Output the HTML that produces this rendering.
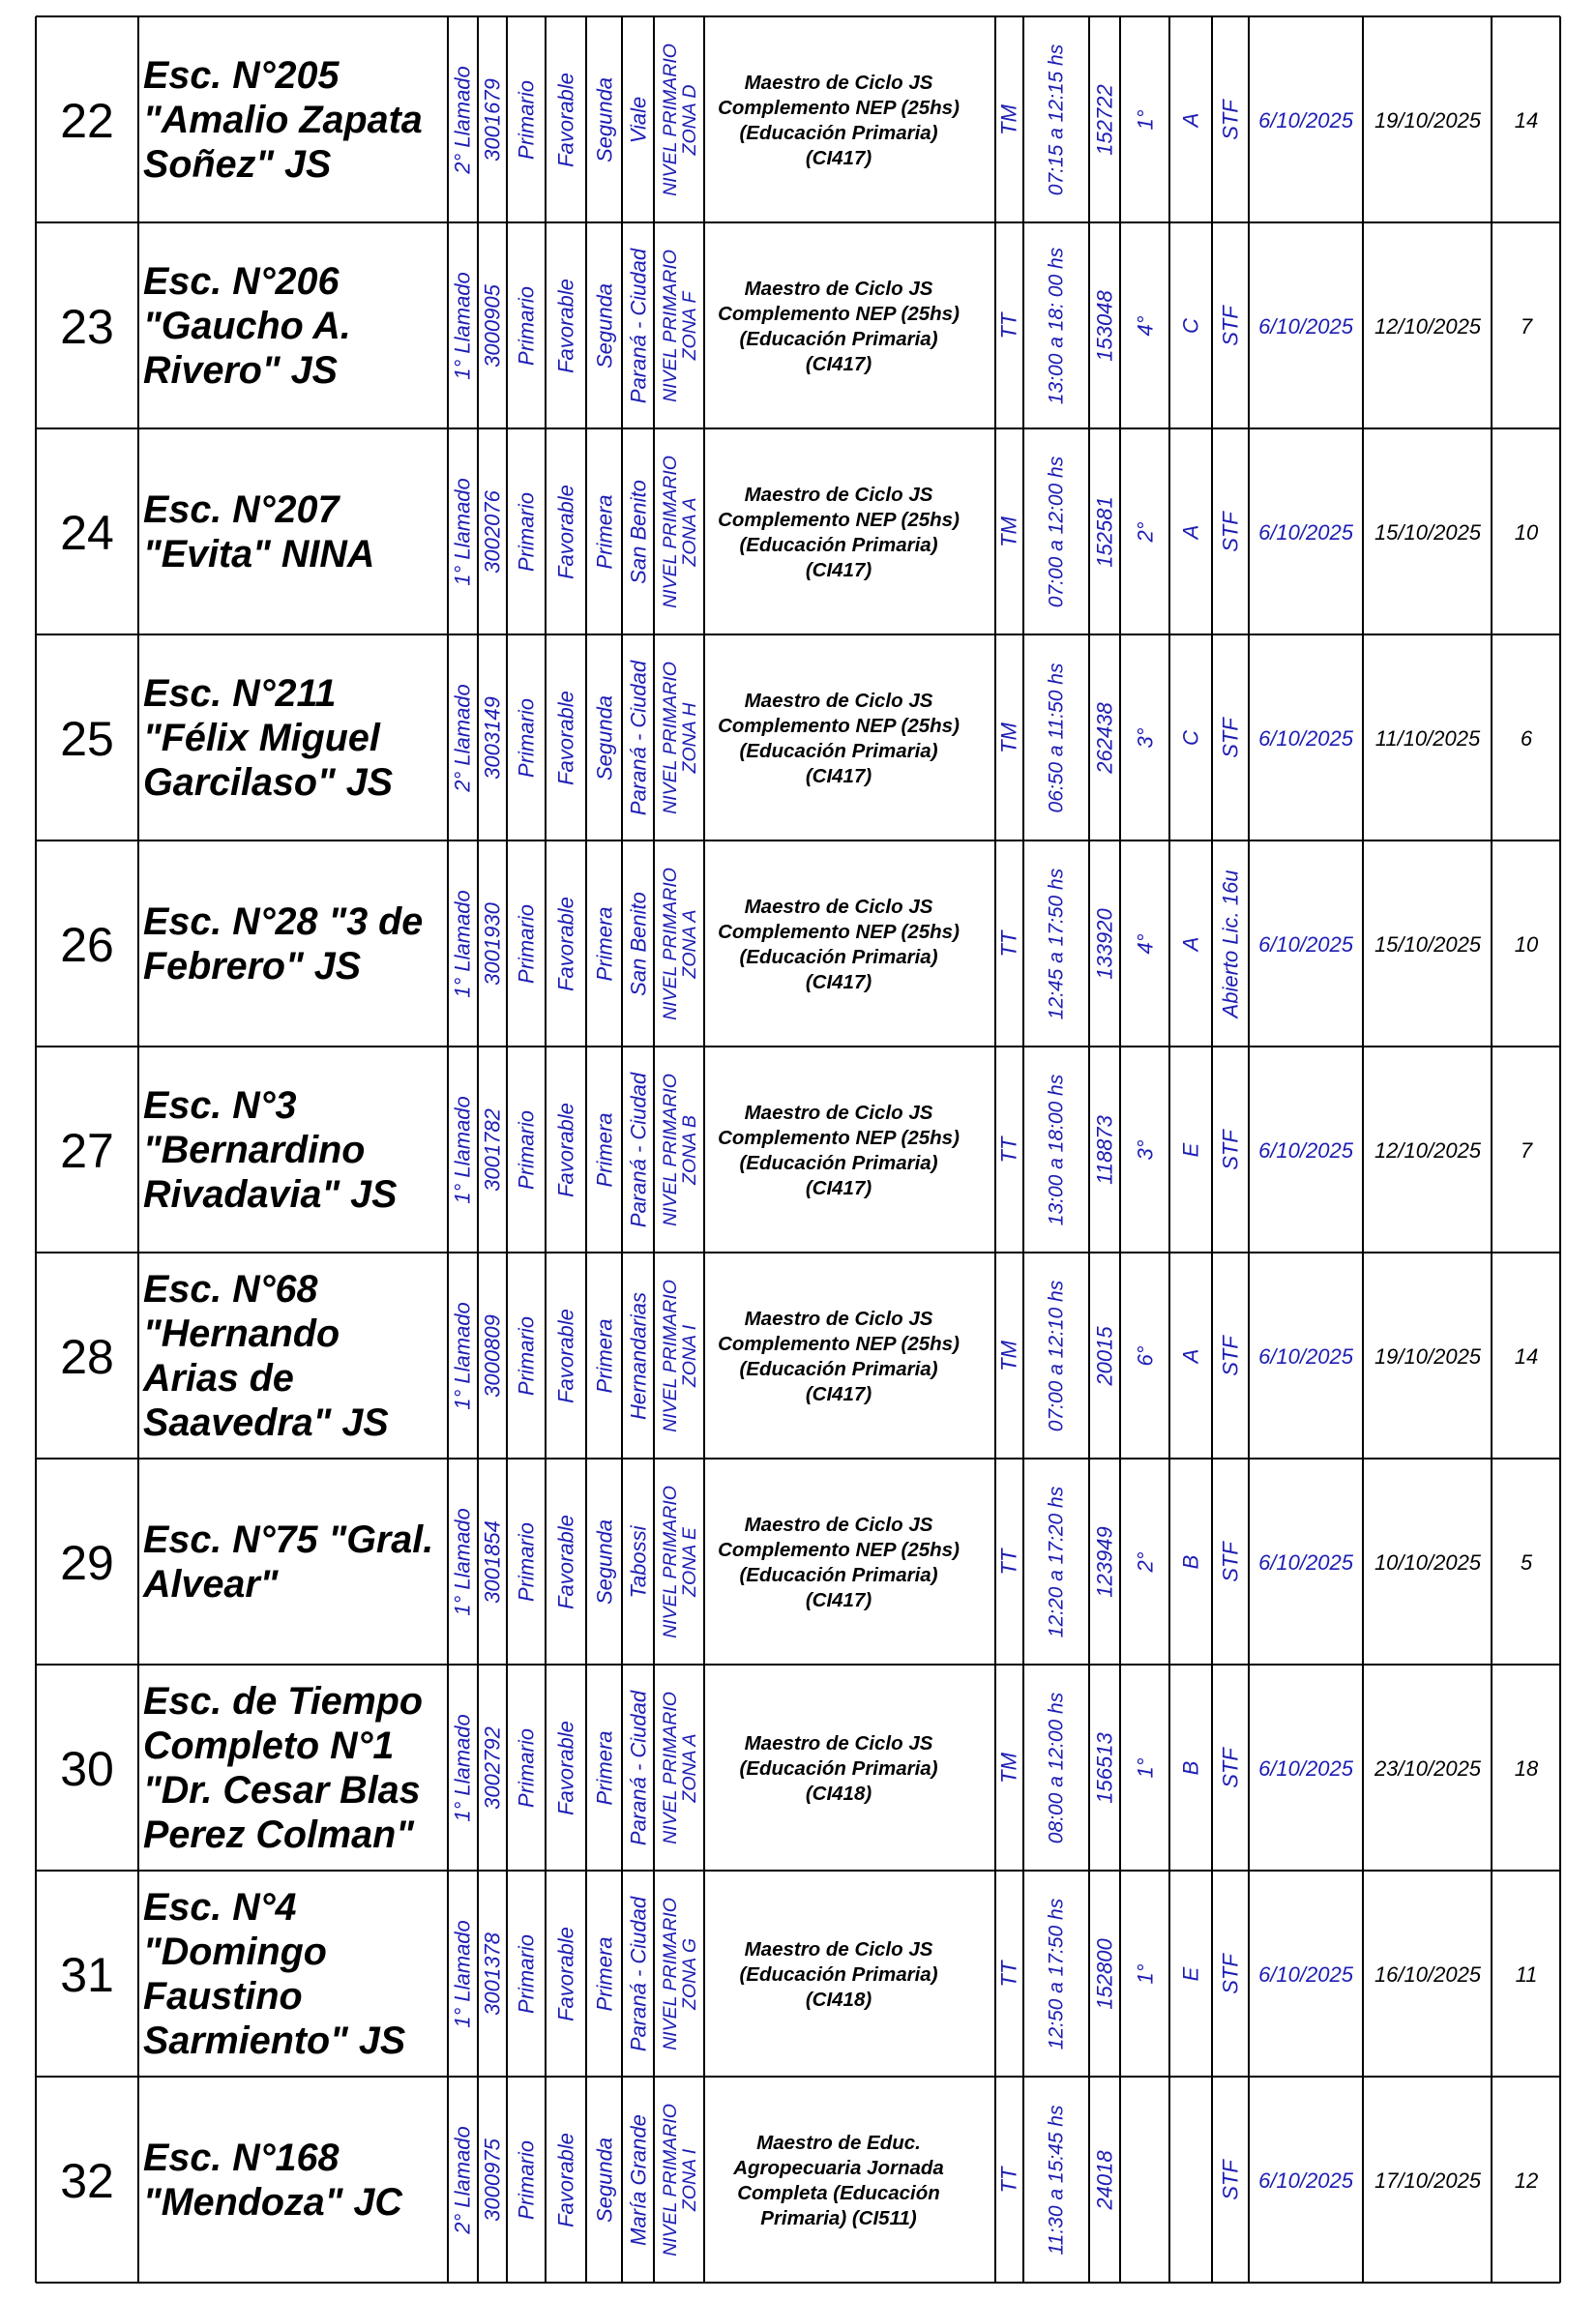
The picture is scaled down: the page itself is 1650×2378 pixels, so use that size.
<!DOCTYPE html>
<html><head><meta charset="utf-8"><style>
html,body{margin:0;padding:0;background:#fff}
svg{display:block}
.n{font:50px "Liberation Sans",sans-serif;fill:#000;text-anchor:middle}
.nm{font:bold italic 39.5px "Liberation Sans",sans-serif;fill:#000}
.r{font:italic 22px "Liberation Sans",sans-serif;fill:#1c1cb4;text-anchor:middle;dominant-baseline:central}
.t{font:italic 21px "Liberation Sans",sans-serif;fill:#1c1cb4;text-anchor:middle;dominant-baseline:central}
.z{font:italic 19.5px "Liberation Sans",sans-serif;fill:#1c1cb4;text-anchor:middle;dominant-baseline:central}
.d{font:bold italic 20.5px "Liberation Sans",sans-serif;fill:#000;text-anchor:middle}
.bd{font:italic 22px "Liberation Sans",sans-serif;fill:#1c1cb4;text-anchor:middle}
.kd{font:italic 22px "Liberation Sans",sans-serif;fill:#000;text-anchor:middle}
</style></head><body>
<svg width="1650" height="2378" viewBox="0 0 1650 2378" xmlns="http://www.w3.org/2000/svg">
<g stroke="#000" stroke-width="2">
<line x1="37" y1="17" x2="1613" y2="17"/><line x1="37" y1="230" x2="1613" y2="230"/><line x1="37" y1="443" x2="1613" y2="443"/><line x1="37" y1="656" x2="1613" y2="656"/><line x1="37" y1="869" x2="1613" y2="869"/><line x1="37" y1="1082" x2="1613" y2="1082"/><line x1="37" y1="1295" x2="1613" y2="1295"/><line x1="37" y1="1508" x2="1613" y2="1508"/><line x1="37" y1="1721" x2="1613" y2="1721"/><line x1="37" y1="1934" x2="1613" y2="1934"/><line x1="37" y1="2147" x2="1613" y2="2147"/><line x1="37" y1="2360" x2="1613" y2="2360"/>
<line x1="37" y1="17" x2="37" y2="2360"/><line x1="143" y1="17" x2="143" y2="2360"/><line x1="463" y1="17" x2="463" y2="2360"/><line x1="494" y1="17" x2="494" y2="2360"/><line x1="524" y1="17" x2="524" y2="2360"/><line x1="564" y1="17" x2="564" y2="2360"/><line x1="606" y1="17" x2="606" y2="2360"/><line x1="643" y1="17" x2="643" y2="2360"/><line x1="676" y1="17" x2="676" y2="2360"/><line x1="728" y1="17" x2="728" y2="2360"/><line x1="1029" y1="17" x2="1029" y2="2360"/><line x1="1058" y1="17" x2="1058" y2="2360"/><line x1="1126" y1="17" x2="1126" y2="2360"/><line x1="1158" y1="17" x2="1158" y2="2360"/><line x1="1209" y1="17" x2="1209" y2="2360"/><line x1="1253" y1="17" x2="1253" y2="2360"/><line x1="1291" y1="17" x2="1291" y2="2360"/><line x1="1409" y1="17" x2="1409" y2="2360"/><line x1="1542" y1="17" x2="1542" y2="2360"/><line x1="1613" y1="17" x2="1613" y2="2360"/>
</g>

<!-- 22 -->
<g transform="translate(0,17)">
<text class="n" x="90" y="125">22</text>
<text class="nm" x="148" y="74">Esc. N°205</text><text class="nm" x="148" y="120">"Amalio Zapata</text><text class="nm" x="148" y="166">Soñez" JS</text>
<text class="r" transform="translate(478,107) rotate(-90)">2° Llamado</text>
<text class="r" transform="translate(509,107) rotate(-90)">3001679</text>
<text class="r" transform="translate(544,107) rotate(-90)">Primario</text>
<text class="r" transform="translate(585,107) rotate(-90)">Favorable</text>
<text class="r" transform="translate(625,107) rotate(-90)">Segunda</text>
<text class="r" transform="translate(660,107) rotate(-90)">Viale</text>
<text class="z" transform="translate(693,107) rotate(-90)">NIVEL PRIMARIO</text><text class="z" transform="translate(713,107) rotate(-90)">ZONA D</text>
<text class="d" x="867" y="75">Maestro de Ciclo JS</text><text class="d" x="867" y="101">Complemento NEP (25hs)</text><text class="d" x="867" y="127">(Educación Primaria)</text><text class="d" x="867" y="153">(CI417)</text>
<text class="r" transform="translate(1043,107) rotate(-90)">TM</text>
<text class="t" transform="translate(1092,107) rotate(-90)">07:15 a 12:15 hs</text>
<text class="r" transform="translate(1142,107) rotate(-90)">152722</text>
<text class="r" transform="translate(1184,107) rotate(-90)">1°</text>
<text class="r" transform="translate(1231,107) rotate(-90)">A</text>
<text class="r" transform="translate(1272,107) rotate(-90)">STF</text>
<text class="bd" x="1350" y="115">6/10/2025</text><text class="kd" x="1476" y="115">19/10/2025</text><text class="kd" x="1578" y="115">14</text>
</g>

<!-- 23 -->
<g transform="translate(0,230)">
<text class="n" x="90" y="125">23</text>
<text class="nm" x="148" y="74">Esc. N°206</text><text class="nm" x="148" y="120">"Gaucho A.</text><text class="nm" x="148" y="166">Rivero" JS</text>
<text class="r" transform="translate(478,107) rotate(-90)">1° Llamado</text>
<text class="r" transform="translate(509,107) rotate(-90)">3000905</text>
<text class="r" transform="translate(544,107) rotate(-90)">Primario</text>
<text class="r" transform="translate(585,107) rotate(-90)">Favorable</text>
<text class="r" transform="translate(625,107) rotate(-90)">Segunda</text>
<text class="r" transform="translate(660,107) rotate(-90)">Paraná - Ciudad</text>
<text class="z" transform="translate(693,107) rotate(-90)">NIVEL PRIMARIO</text><text class="z" transform="translate(713,107) rotate(-90)">ZONA F</text>
<text class="d" x="867" y="75">Maestro de Ciclo JS</text><text class="d" x="867" y="101">Complemento NEP (25hs)</text><text class="d" x="867" y="127">(Educación Primaria)</text><text class="d" x="867" y="153">(CI417)</text>
<text class="r" transform="translate(1043,107) rotate(-90)">TT</text>
<text class="t" transform="translate(1092,107) rotate(-90)">13:00 a 18: 00 hs</text>
<text class="r" transform="translate(1142,107) rotate(-90)">153048</text>
<text class="r" transform="translate(1184,107) rotate(-90)">4°</text>
<text class="r" transform="translate(1231,107) rotate(-90)">C</text>
<text class="r" transform="translate(1272,107) rotate(-90)">STF</text>
<text class="bd" x="1350" y="115">6/10/2025</text><text class="kd" x="1476" y="115">12/10/2025</text><text class="kd" x="1578" y="115">7</text>
</g>

<!-- 24 -->
<g transform="translate(0,443)">
<text class="n" x="90" y="125">24</text>
<text class="nm" x="148" y="97">Esc. N°207</text><text class="nm" x="148" y="143">"Evita" NINA</text>
<text class="r" transform="translate(478,107) rotate(-90)">1° Llamado</text>
<text class="r" transform="translate(509,107) rotate(-90)">3002076</text>
<text class="r" transform="translate(544,107) rotate(-90)">Primario</text>
<text class="r" transform="translate(585,107) rotate(-90)">Favorable</text>
<text class="r" transform="translate(625,107) rotate(-90)">Primera</text>
<text class="r" transform="translate(660,107) rotate(-90)">San Benito</text>
<text class="z" transform="translate(693,107) rotate(-90)">NIVEL PRIMARIO</text><text class="z" transform="translate(713,107) rotate(-90)">ZONA A</text>
<text class="d" x="867" y="75">Maestro de Ciclo JS</text><text class="d" x="867" y="101">Complemento NEP (25hs)</text><text class="d" x="867" y="127">(Educación Primaria)</text><text class="d" x="867" y="153">(CI417)</text>
<text class="r" transform="translate(1043,107) rotate(-90)">TM</text>
<text class="t" transform="translate(1092,107) rotate(-90)">07:00 a 12:00 hs</text>
<text class="r" transform="translate(1142,107) rotate(-90)">152581</text>
<text class="r" transform="translate(1184,107) rotate(-90)">2°</text>
<text class="r" transform="translate(1231,107) rotate(-90)">A</text>
<text class="r" transform="translate(1272,107) rotate(-90)">STF</text>
<text class="bd" x="1350" y="115">6/10/2025</text><text class="kd" x="1476" y="115">15/10/2025</text><text class="kd" x="1578" y="115">10</text>
</g>

<!-- 25 -->
<g transform="translate(0,656)">
<text class="n" x="90" y="125">25</text>
<text class="nm" x="148" y="74">Esc. N°211</text><text class="nm" x="148" y="120">"Félix Miguel</text><text class="nm" x="148" y="166">Garcilaso" JS</text>
<text class="r" transform="translate(478,107) rotate(-90)">2° Llamado</text>
<text class="r" transform="translate(509,107) rotate(-90)">3003149</text>
<text class="r" transform="translate(544,107) rotate(-90)">Primario</text>
<text class="r" transform="translate(585,107) rotate(-90)">Favorable</text>
<text class="r" transform="translate(625,107) rotate(-90)">Segunda</text>
<text class="r" transform="translate(660,107) rotate(-90)">Paraná - Ciudad</text>
<text class="z" transform="translate(693,107) rotate(-90)">NIVEL PRIMARIO</text><text class="z" transform="translate(713,107) rotate(-90)">ZONA H</text>
<text class="d" x="867" y="75">Maestro de Ciclo JS</text><text class="d" x="867" y="101">Complemento NEP (25hs)</text><text class="d" x="867" y="127">(Educación Primaria)</text><text class="d" x="867" y="153">(CI417)</text>
<text class="r" transform="translate(1043,107) rotate(-90)">TM</text>
<text class="t" transform="translate(1092,107) rotate(-90)">06:50 a 11:50 hs</text>
<text class="r" transform="translate(1142,107) rotate(-90)">262438</text>
<text class="r" transform="translate(1184,107) rotate(-90)">3°</text>
<text class="r" transform="translate(1231,107) rotate(-90)">C</text>
<text class="r" transform="translate(1272,107) rotate(-90)">STF</text>
<text class="bd" x="1350" y="115">6/10/2025</text><text class="kd" x="1476" y="115">11/10/2025</text><text class="kd" x="1578" y="115">6</text>
</g>

<!-- 26 -->
<g transform="translate(0,869)">
<text class="n" x="90" y="125">26</text>
<text class="nm" x="148" y="97">Esc. N°28 "3 de</text><text class="nm" x="148" y="143">Febrero" JS</text>
<text class="r" transform="translate(478,107) rotate(-90)">1° Llamado</text>
<text class="r" transform="translate(509,107) rotate(-90)">3001930</text>
<text class="r" transform="translate(544,107) rotate(-90)">Primario</text>
<text class="r" transform="translate(585,107) rotate(-90)">Favorable</text>
<text class="r" transform="translate(625,107) rotate(-90)">Primera</text>
<text class="r" transform="translate(660,107) rotate(-90)">San Benito</text>
<text class="z" transform="translate(693,107) rotate(-90)">NIVEL PRIMARIO</text><text class="z" transform="translate(713,107) rotate(-90)">ZONA A</text>
<text class="d" x="867" y="75">Maestro de Ciclo JS</text><text class="d" x="867" y="101">Complemento NEP (25hs)</text><text class="d" x="867" y="127">(Educación Primaria)</text><text class="d" x="867" y="153">(CI417)</text>
<text class="r" transform="translate(1043,107) rotate(-90)">TT</text>
<text class="t" transform="translate(1092,107) rotate(-90)">12:45 a 17:50 hs</text>
<text class="r" transform="translate(1142,107) rotate(-90)">133920</text>
<text class="r" transform="translate(1184,107) rotate(-90)">4°</text>
<text class="r" transform="translate(1231,107) rotate(-90)">A</text>
<text class="r" transform="translate(1272,107) rotate(-90)">Abierto Lic. 16u</text>
<text class="bd" x="1350" y="115">6/10/2025</text><text class="kd" x="1476" y="115">15/10/2025</text><text class="kd" x="1578" y="115">10</text>
</g>

<!-- 27 -->
<g transform="translate(0,1082)">
<text class="n" x="90" y="125">27</text>
<text class="nm" x="148" y="74">Esc. N°3</text><text class="nm" x="148" y="120">"Bernardino</text><text class="nm" x="148" y="166">Rivadavia" JS</text>
<text class="r" transform="translate(478,107) rotate(-90)">1° Llamado</text>
<text class="r" transform="translate(509,107) rotate(-90)">3001782</text>
<text class="r" transform="translate(544,107) rotate(-90)">Primario</text>
<text class="r" transform="translate(585,107) rotate(-90)">Favorable</text>
<text class="r" transform="translate(625,107) rotate(-90)">Primera</text>
<text class="r" transform="translate(660,107) rotate(-90)">Paraná - Ciudad</text>
<text class="z" transform="translate(693,107) rotate(-90)">NIVEL PRIMARIO</text><text class="z" transform="translate(713,107) rotate(-90)">ZONA B</text>
<text class="d" x="867" y="75">Maestro de Ciclo JS</text><text class="d" x="867" y="101">Complemento NEP (25hs)</text><text class="d" x="867" y="127">(Educación Primaria)</text><text class="d" x="867" y="153">(CI417)</text>
<text class="r" transform="translate(1043,107) rotate(-90)">TT</text>
<text class="t" transform="translate(1092,107) rotate(-90)">13:00 a 18:00 hs</text>
<text class="r" transform="translate(1142,107) rotate(-90)">118873</text>
<text class="r" transform="translate(1184,107) rotate(-90)">3°</text>
<text class="r" transform="translate(1231,107) rotate(-90)">E</text>
<text class="r" transform="translate(1272,107) rotate(-90)">STF</text>
<text class="bd" x="1350" y="115">6/10/2025</text><text class="kd" x="1476" y="115">12/10/2025</text><text class="kd" x="1578" y="115">7</text>
</g>

<!-- 28 -->
<g transform="translate(0,1295)">
<text class="n" x="90" y="125">28</text>
<text class="nm" x="148" y="51">Esc. N°68</text><text class="nm" x="148" y="97">"Hernando</text><text class="nm" x="148" y="143">Arias de</text><text class="nm" x="148" y="189">Saavedra" JS</text>
<text class="r" transform="translate(478,107) rotate(-90)">1° Llamado</text>
<text class="r" transform="translate(509,107) rotate(-90)">3000809</text>
<text class="r" transform="translate(544,107) rotate(-90)">Primario</text>
<text class="r" transform="translate(585,107) rotate(-90)">Favorable</text>
<text class="r" transform="translate(625,107) rotate(-90)">Primera</text>
<text class="r" transform="translate(660,107) rotate(-90)">Hernandarias</text>
<text class="z" transform="translate(693,107) rotate(-90)">NIVEL PRIMARIO</text><text class="z" transform="translate(713,107) rotate(-90)">ZONA I</text>
<text class="d" x="867" y="75">Maestro de Ciclo JS</text><text class="d" x="867" y="101">Complemento NEP (25hs)</text><text class="d" x="867" y="127">(Educación Primaria)</text><text class="d" x="867" y="153">(CI417)</text>
<text class="r" transform="translate(1043,107) rotate(-90)">TM</text>
<text class="t" transform="translate(1092,107) rotate(-90)">07:00 a 12:10 hs</text>
<text class="r" transform="translate(1142,107) rotate(-90)">20015</text>
<text class="r" transform="translate(1184,107) rotate(-90)">6°</text>
<text class="r" transform="translate(1231,107) rotate(-90)">A</text>
<text class="r" transform="translate(1272,107) rotate(-90)">STF</text>
<text class="bd" x="1350" y="115">6/10/2025</text><text class="kd" x="1476" y="115">19/10/2025</text><text class="kd" x="1578" y="115">14</text>
</g>

<!-- 29 -->
<g transform="translate(0,1508)">
<text class="n" x="90" y="125">29</text>
<text class="nm" x="148" y="97">Esc. N°75 "Gral.</text><text class="nm" x="148" y="143">Alvear"</text>
<text class="r" transform="translate(478,107) rotate(-90)">1° Llamado</text>
<text class="r" transform="translate(509,107) rotate(-90)">3001854</text>
<text class="r" transform="translate(544,107) rotate(-90)">Primario</text>
<text class="r" transform="translate(585,107) rotate(-90)">Favorable</text>
<text class="r" transform="translate(625,107) rotate(-90)">Segunda</text>
<text class="r" transform="translate(660,107) rotate(-90)">Tabossi</text>
<text class="z" transform="translate(693,107) rotate(-90)">NIVEL PRIMARIO</text><text class="z" transform="translate(713,107) rotate(-90)">ZONA E</text>
<text class="d" x="867" y="75">Maestro de Ciclo JS</text><text class="d" x="867" y="101">Complemento NEP (25hs)</text><text class="d" x="867" y="127">(Educación Primaria)</text><text class="d" x="867" y="153">(CI417)</text>
<text class="r" transform="translate(1043,107) rotate(-90)">TT</text>
<text class="t" transform="translate(1092,107) rotate(-90)">12:20 a 17:20 hs</text>
<text class="r" transform="translate(1142,107) rotate(-90)">123949</text>
<text class="r" transform="translate(1184,107) rotate(-90)">2°</text>
<text class="r" transform="translate(1231,107) rotate(-90)">B</text>
<text class="r" transform="translate(1272,107) rotate(-90)">STF</text>
<text class="bd" x="1350" y="115">6/10/2025</text><text class="kd" x="1476" y="115">10/10/2025</text><text class="kd" x="1578" y="115">5</text>
</g>

<!-- 30 -->
<g transform="translate(0,1721)">
<text class="n" x="90" y="125">30</text>
<text class="nm" x="148" y="51">Esc. de Tiempo</text><text class="nm" x="148" y="97">Completo N°1</text><text class="nm" x="148" y="143">"Dr. Cesar Blas</text><text class="nm" x="148" y="189">Perez Colman"</text>
<text class="r" transform="translate(478,107) rotate(-90)">1° Llamado</text>
<text class="r" transform="translate(509,107) rotate(-90)">3002792</text>
<text class="r" transform="translate(544,107) rotate(-90)">Primario</text>
<text class="r" transform="translate(585,107) rotate(-90)">Favorable</text>
<text class="r" transform="translate(625,107) rotate(-90)">Primera</text>
<text class="r" transform="translate(660,107) rotate(-90)">Paraná - Ciudad</text>
<text class="z" transform="translate(693,107) rotate(-90)">NIVEL PRIMARIO</text><text class="z" transform="translate(713,107) rotate(-90)">ZONA A</text>
<text class="d" x="867" y="88">Maestro de Ciclo JS</text><text class="d" x="867" y="114">(Educación Primaria)</text><text class="d" x="867" y="140">(CI418)</text>
<text class="r" transform="translate(1043,107) rotate(-90)">TM</text>
<text class="t" transform="translate(1092,107) rotate(-90)">08:00 a 12:00 hs</text>
<text class="r" transform="translate(1142,107) rotate(-90)">156513</text>
<text class="r" transform="translate(1184,107) rotate(-90)">1°</text>
<text class="r" transform="translate(1231,107) rotate(-90)">B</text>
<text class="r" transform="translate(1272,107) rotate(-90)">STF</text>
<text class="bd" x="1350" y="115">6/10/2025</text><text class="kd" x="1476" y="115">23/10/2025</text><text class="kd" x="1578" y="115">18</text>
</g>

<!-- 31 -->
<g transform="translate(0,1934)">
<text class="n" x="90" y="125">31</text>
<text class="nm" x="148" y="51">Esc. N°4</text><text class="nm" x="148" y="97">"Domingo</text><text class="nm" x="148" y="143">Faustino</text><text class="nm" x="148" y="189">Sarmiento" JS</text>
<text class="r" transform="translate(478,107) rotate(-90)">1° Llamado</text>
<text class="r" transform="translate(509,107) rotate(-90)">3001378</text>
<text class="r" transform="translate(544,107) rotate(-90)">Primario</text>
<text class="r" transform="translate(585,107) rotate(-90)">Favorable</text>
<text class="r" transform="translate(625,107) rotate(-90)">Primera</text>
<text class="r" transform="translate(660,107) rotate(-90)">Paraná - Ciudad</text>
<text class="z" transform="translate(693,107) rotate(-90)">NIVEL PRIMARIO</text><text class="z" transform="translate(713,107) rotate(-90)">ZONA G</text>
<text class="d" x="867" y="88">Maestro de Ciclo JS</text><text class="d" x="867" y="114">(Educación Primaria)</text><text class="d" x="867" y="140">(CI418)</text>
<text class="r" transform="translate(1043,107) rotate(-90)">TT</text>
<text class="t" transform="translate(1092,107) rotate(-90)">12:50 a 17:50 hs</text>
<text class="r" transform="translate(1142,107) rotate(-90)">152800</text>
<text class="r" transform="translate(1184,107) rotate(-90)">1°</text>
<text class="r" transform="translate(1231,107) rotate(-90)">E</text>
<text class="r" transform="translate(1272,107) rotate(-90)">STF</text>
<text class="bd" x="1350" y="115">6/10/2025</text><text class="kd" x="1476" y="115">16/10/2025</text><text class="kd" x="1578" y="115">11</text>
</g>

<!-- 32 -->
<g transform="translate(0,2147)">
<text class="n" x="90" y="125">32</text>
<text class="nm" x="148" y="97">Esc. N°168</text><text class="nm" x="148" y="143">"Mendoza" JC</text>
<text class="r" transform="translate(478,107) rotate(-90)">2° Llamado</text>
<text class="r" transform="translate(509,107) rotate(-90)">3000975</text>
<text class="r" transform="translate(544,107) rotate(-90)">Primario</text>
<text class="r" transform="translate(585,107) rotate(-90)">Favorable</text>
<text class="r" transform="translate(625,107) rotate(-90)">Segunda</text>
<text class="r" transform="translate(660,107) rotate(-90)">María Grande</text>
<text class="z" transform="translate(693,107) rotate(-90)">NIVEL PRIMARIO</text><text class="z" transform="translate(713,107) rotate(-90)">ZONA I</text>
<text class="d" x="867" y="75">Maestro de Educ.</text><text class="d" x="867" y="101">Agropecuaria Jornada</text><text class="d" x="867" y="127">Completa (Educación</text><text class="d" x="867" y="153">Primaria) (CI511)</text>
<text class="r" transform="translate(1043,107) rotate(-90)">TT</text>
<text class="t" transform="translate(1092,107) rotate(-90)">11:30 a 15:45 hs</text>
<text class="r" transform="translate(1142,107) rotate(-90)">24018</text>
<text class="r" transform="translate(1272,107) rotate(-90)">STF</text>
<text class="bd" x="1350" y="115">6/10/2025</text><text class="kd" x="1476" y="115">17/10/2025</text><text class="kd" x="1578" y="115">12</text>
</g>
</svg>
</body></html>
